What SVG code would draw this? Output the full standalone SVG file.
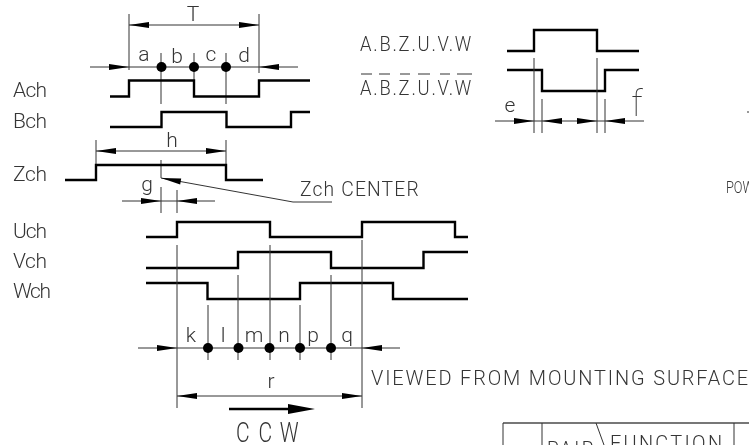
<svg xmlns="http://www.w3.org/2000/svg" width="749" height="445" viewBox="0 0 749 445">
<style>
text{font-family:"Roboto","Liberation Sans",sans-serif;font-weight:300;fill:#333;font-size:21px}
.c{text-anchor:middle}
.w{fill:none;stroke:#000;stroke-width:2.400}
.t{fill:none;stroke:#333;stroke-width:1}
.a{fill:#000;stroke:none}
</style>
<defs>
<path id="ar" d="M0 0L-20 -3L-20 3Z"/>
</defs>
<g id="connectors">
<path class="t" d="M129 14V70M259 14V73M96 140V165M226 140V165M90 67H298M129 25H259M96 151H226M161 53V104M194 53V80M226 53V104M161 160V178M161 187V213M177 190V213M122 201H215M161 178L293 202H332"/>
<path class="w" d="M110 96.500H129V80.500H194V96.500H259V80.500H310M110 127H161.500V112H226.500V127H291V112H310M65 180H96V165H226V180H263"/>
<path class="w" d="M507 51H534V30H597V51H639M507 70H542V91H605V70H639"/>
<path class="t" d="M534 58V133M597 58V133M542 99V133M605 99V133M495 121H644"/>
<path class="w" d="M146 237H177V222H270V237H362V222H455V237H468M146 268H238V252H331V268H423.500V252H468M146 283H207.500V299H300V283H393V299H468"/>
<path class="t" d="M177 245V408M362 240V408M270 245V360M238 275V360M331 275V360M208 305V360M300 305V360M138 348H400M177 396H362"/>
<path d="M229 409H292" fill="none" stroke="#000" stroke-width="2.500"/>
<path class="a" d="M315 409L288 404V414Z"/>
<g class="a">
<use href="#ar" transform="translate(129 25) rotate(180)"/><use href="#ar" transform="translate(259 25)"/>
<use href="#ar" transform="translate(129 67)"/><use href="#ar" transform="translate(259 67) rotate(180)"/>
<use href="#ar" transform="translate(96 151) rotate(180)"/><use href="#ar" transform="translate(226 151)"/>
<use href="#ar" transform="translate(161 201)"/><use href="#ar" transform="translate(177 201) rotate(180)"/>
<use href="#ar" transform="translate(161 178) rotate(190)"/>
<use href="#ar" transform="translate(534 121)"/><use href="#ar" transform="translate(542 121) rotate(180)"/>
<use href="#ar" transform="translate(597 121)"/><use href="#ar" transform="translate(605 121) rotate(180)"/>
<use href="#ar" transform="translate(177 348)"/><use href="#ar" transform="translate(362 348) rotate(180)"/>
<use href="#ar" transform="translate(177 396) rotate(180)"/><use href="#ar" transform="translate(362 396)"/>
<circle cx="161.500" cy="67" r="5"/><circle cx="194" cy="67" r="5"/><circle cx="226" cy="67" r="5"/>
<circle cx="208" cy="348" r="5"/><circle cx="238.500" cy="348" r="5"/><circle cx="269.500" cy="348" r="5"/><circle cx="300" cy="348" r="5"/><circle cx="331" cy="348" r="5"/>
</g>
<path class="t" d="M361 74H372M379 74H390M400 74H410M418 74H430M440 74H450M457 74H472M747 112H749"/>
<path fill="none" stroke="#777" stroke-width="2" d="M503 423H749"/>
<path class="t" d="M503 423V445M542 423V445M734 423V445M596 423L604 445"/>
</g>
<g id="labels" opacity=".99">
<text class="c" x="193" y="21">T</text>
<text class="c" x="144" y="61">a</text>
<text class="c" x="177" y="63">b</text>
<text class="c" x="211" y="61">c</text>
<text class="c" x="244" y="62">d</text>
<text x="13" y="97" textLength="34" lengthAdjust="spacing">Ach</text>
<text x="13" y="128" textLength="34" lengthAdjust="spacing">Bch</text>
<text x="13" y="181" textLength="34" lengthAdjust="spacing">Zch</text>
<text x="13" y="238" textLength="34" lengthAdjust="spacing">Uch</text>
<text x="13" y="268" textLength="34" lengthAdjust="spacing">Vch</text>
<text x="13" y="298" textLength="38" lengthAdjust="spacing">Wch</text>
<text class="c" x="172" y="147">h</text>
<text class="c" x="147" y="191">g</text>
<text transform="translate(300 196) scale(.92 1)" textLength="129" lengthAdjust="spacing">Zch CENTER</text>
<text transform="translate(360 51) scale(.92 1)" textLength="121" lengthAdjust="spacing" style="font-size:20px">A.B.Z.U.V.W</text>
<text transform="translate(360 95) scale(.92 1)" textLength="121" lengthAdjust="spacing" style="font-size:20px">A.B.Z.U.V.W</text>
<text class="c" x="510" y="112">e</text>
<text class="c" x="637" y="116" style="font-size:36px;font-weight:100">f</text>
<text class="c" x="191" y="342">k</text>
<text class="c" x="223" y="342">l</text>
<text class="c" x="254" y="342">m</text>
<text class="c" x="284" y="342">n</text>
<text class="c" x="313" y="342">p</text>
<text class="c" x="347" y="342">q</text>
<text class="c" x="271" y="388">r</text>
<text transform="translate(236 442) scale(.78 1)" x="0 29 56" style="font-size:27px">CCW</text>
<text transform="translate(371 385) scale(.95 1)" textLength="397" lengthAdjust="spacing">VIEWED FROM MOUNTING SURFACE</text>
<text transform="translate(726 193) scale(.8 1)" style="font-size:16px">POW</text>
<text transform="translate(547 456) scale(.9 1)" textLength="52" lengthAdjust="spacing">PAIR</text>
<text transform="translate(610 450) scale(.95 1)" textLength="118" lengthAdjust="spacing">FUNCTION</text>
</g>
</svg>
